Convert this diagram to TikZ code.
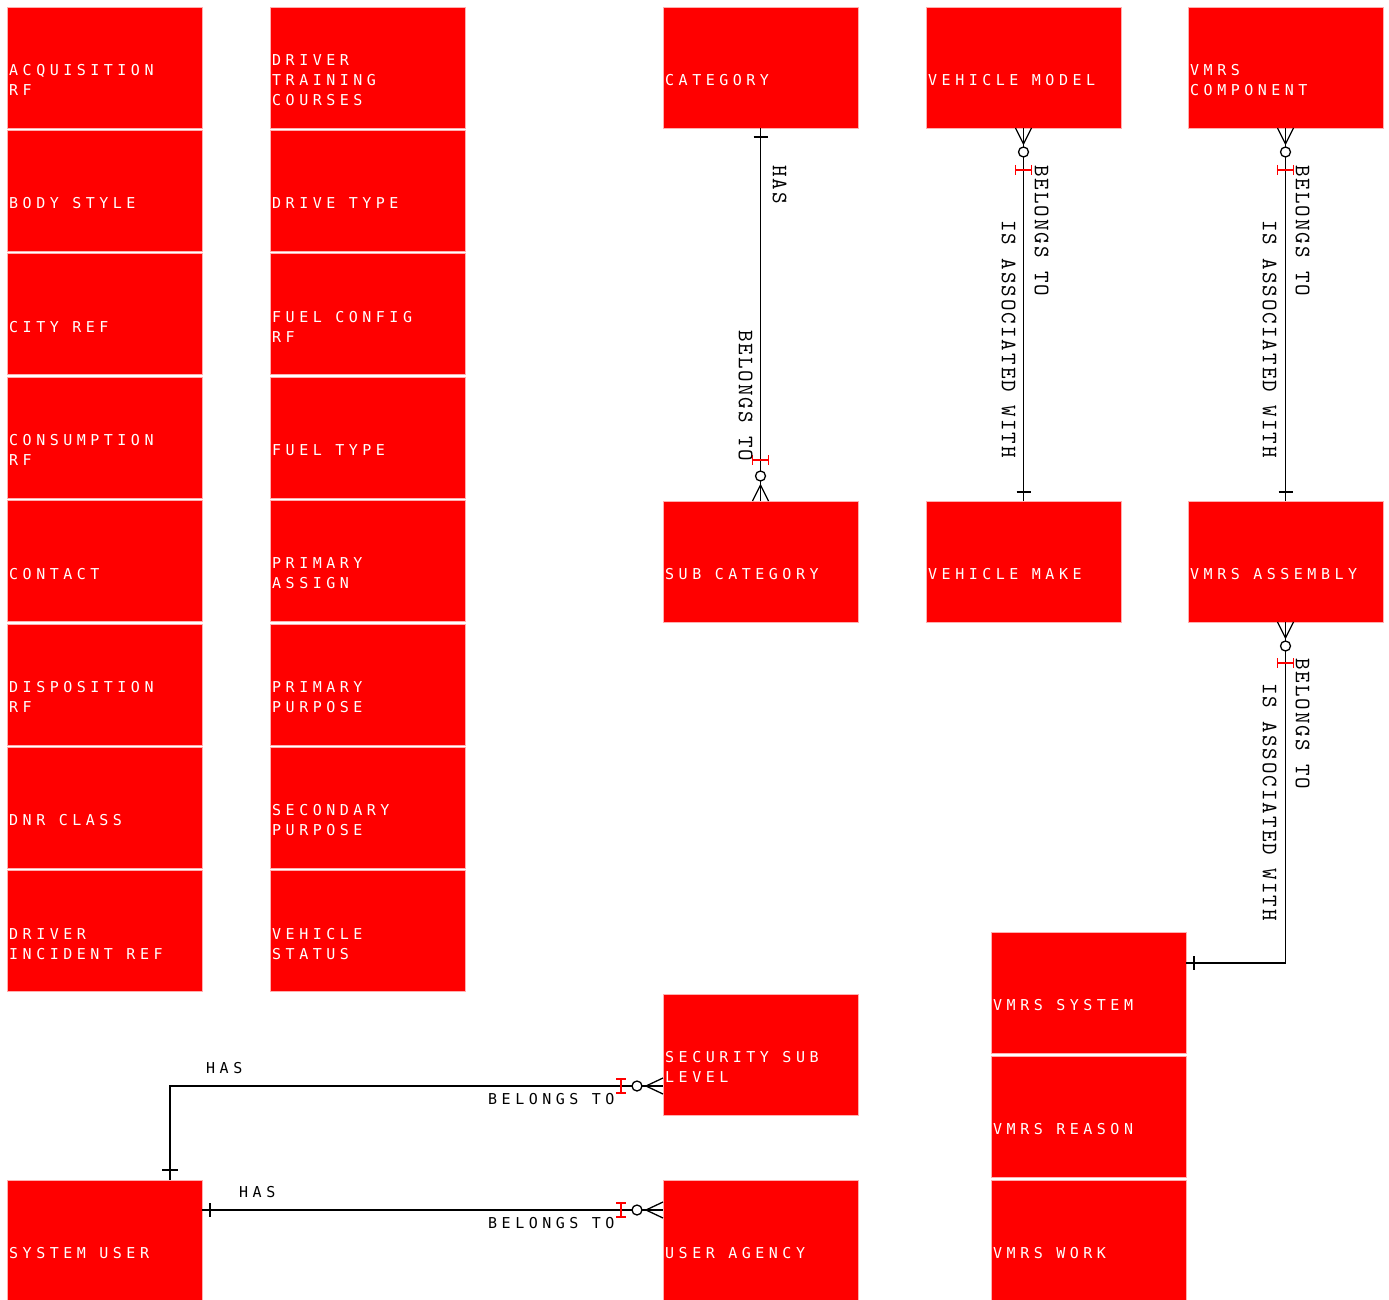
\documentclass[tikz,border=0pt]{standalone}
\usepackage{fontspec}
\newfontfamily\entfontfam{DejaVu Sans Mono}[LetterSpace=30]
\newfontfamily\lblfam{lmmono10-regular.otf}[LetterSpace=9]
\newcommand\entfont{\entfontfam\fontsize{15}{20}\selectfont}
\newcommand\lblfont{\lblfam\fontsize{22}{22}\selectfont}
\usetikzlibrary{calc}
\definecolor{entred}{RGB}{255,0,0}
\definecolor{entedge}{RGB}{255,175,175}
\newcommand\entity[4]{%
  \node[ent] (#1) at (#2,#3) {};
  \node[etext] (#1-t) at ([xshift=2pt,yshift=-12.5pt]#1.west) {#4};}
\begin{document}
\begin{tikzpicture}[x=1pt,y=-1pt,
  ent/.style={draw=entedge, line width=0.8pt, fill=entred, minimum width=195pt, minimum height=121pt, anchor=north west, inner sep=0pt, outer sep=0pt},
  etext/.style={anchor=west, text=white, font=\entfont, align=left, inner sep=0pt},
  rel/.style={draw=black, line width=1.3pt},
  redmark/.style={draw=red, line width=1.3pt},
  circ/.style={draw=black, line width=1.3pt, fill=white},
  vlab/.style={font=\lblfont, rotate=-90, anchor=west, inner sep=0pt},
  hlab/.style={font=\entfont, anchor=west, inner sep=0pt, text=black}]
\useasboundingbox (0,0) rectangle (1389,1300);
% column 1
\entity{acq}{7}{7}{ACQUISITION\\RF}
\entity{body}{7}{130.4}{BODY STYLE}
\entity{city}{7}{253.8}{CITY REF}
\entity{cons}{7}{377.2}{CONSUMPTION\\RF}
\entity{contact}{7}{500.6}{CONTACT}
\entity{disp}{7}{624}{DISPOSITION\\RF}
\entity{dnr}{7}{747.4}{DNR CLASS}
\entity{dinc}{7}{870.8}{DRIVER\\INCIDENT REF}
% column 2
\entity{dtc}{270}{7}{DRIVER\\TRAINING\\COURSES}
\entity{drive}{270}{130.4}{DRIVE TYPE}
\entity{fconf}{270}{253.8}{FUEL CONFIG\\RF}
\entity{ftype}{270}{377.2}{FUEL TYPE}
\entity{pass}{270}{500.6}{PRIMARY\\ASSIGN}
\entity{ppur}{270}{624}{PRIMARY\\PURPOSE}
\entity{spur}{270}{747.4}{SECONDARY\\PURPOSE}
\entity{vstat}{270}{870.8}{VEHICLE\\STATUS}
% others
\entity{cat}{663}{7}{CATEGORY}
\entity{subcat}{663}{501}{SUB CATEGORY}
\entity{vmodel}{926}{7}{VEHICLE MODEL}
\entity{vmake}{926}{501}{VEHICLE MAKE}
\entity{vcomp}{1188}{7}{VMRS\\COMPONENT}
\entity{vasm}{1188}{501}{VMRS ASSEMBLY}
\entity{vsys}{991}{932}{VMRS SYSTEM}
\entity{vreason}{991}{1056}{VMRS REASON}
\entity{vwork}{991}{1180}{VMRS WORK}
\entity{secsub}{663}{994}{SECURITY SUB\\LEVEL}
\entity{uagency}{663}{1180}{USER AGENCY}
\entity{sysuser}{7}{1180}{SYSTEM USER}

% CATEGORY -> SUB CATEGORY
\draw[rel] (cat.south) -- (subcat.north);
\draw[rel] ($(cat.south)+(-7,9)$) -- ($(cat.south)+(7,9)$);
\draw[redmark] ($(subcat.north)+(-8,-41)$) -- ($(subcat.north)+(8,-41)$);
\draw[redmark] ($(subcat.north)+(-8,-46)$) -- ($(subcat.north)+(-8,-36)$);
\draw[redmark] ($(subcat.north)+(8,-46)$) -- ($(subcat.north)+(8,-36)$);
\draw[rel] ($(subcat.north)+(0,-16)$) -- ($(subcat.north)+(-8,0)$);
\draw[rel] ($(subcat.north)+(0,-16)$) -- ($(subcat.north)+(8,0)$);
\draw[circ] ($(subcat.north)+(0,-25)$) circle[radius=5];
\node[vlab] (l1) at ($(cat.south)+(19,37)$) {HAS};
\node[vlab] (l2) at ($(subcat.north)+(-15,-171)$) {BELONGS TO};

% VEHICLE MODEL -> VEHICLE MAKE
\draw[rel] (vmodel.south) -- (vmake.north);
\draw[rel] ($(vmake.north)+(-7,-9)$) -- ($(vmake.north)+(7,-9)$);
\draw[rel] ($(vmodel.south)+(0,16)$) -- ($(vmodel.south)+(-8,0)$);
\draw[rel] ($(vmodel.south)+(0,16)$) -- ($(vmodel.south)+(8,0)$);
\draw[circ] ($(vmodel.south)+(0,24)$) circle[radius=5];
\draw[redmark] ($(vmodel.south)+(-8,42)$) -- ($(vmodel.south)+(8,42)$);
\draw[redmark] ($(vmodel.south)+(-8,37)$) -- ($(vmodel.south)+(-8,47)$);
\draw[redmark] ($(vmodel.south)+(8,37)$) -- ($(vmodel.south)+(8,47)$);
\node[vlab] (l3) at ($(vmodel.south)+(18,37)$) {BELONGS TO};
\node[vlab] (l4) at ($(vmodel.south)+(-15,92)$) {IS ASSOCIATED WITH};

% VMRS COMPONENT -> VMRS ASSEMBLY
\draw[rel] (vcomp.south) -- (vasm.north);
\draw[rel] ($(vasm.north)+(-7,-9)$) -- ($(vasm.north)+(7,-9)$);
\draw[rel] ($(vcomp.south)+(0,16)$) -- ($(vcomp.south)+(-8,0)$);
\draw[rel] ($(vcomp.south)+(0,16)$) -- ($(vcomp.south)+(8,0)$);
\draw[circ] ($(vcomp.south)+(0,24)$) circle[radius=5];
\draw[redmark] ($(vcomp.south)+(-8,42)$) -- ($(vcomp.south)+(8,42)$);
\draw[redmark] ($(vcomp.south)+(-8,37)$) -- ($(vcomp.south)+(-8,47)$);
\draw[redmark] ($(vcomp.south)+(8,37)$) -- ($(vcomp.south)+(8,47)$);
\node[vlab] (l5) at ($(vcomp.south)+(17,37)$) {BELONGS TO};
\node[vlab] (l6) at ($(vcomp.south)+(-16,92)$) {IS ASSOCIATED WITH};

% VMRS ASSEMBLY -> VMRS SYSTEM
\coordinate (sysin) at ($(vsys.north east)+(0,31)$);
\draw[rel] (vasm.south) |- (sysin);
\draw[rel] ($(sysin)+(8,-7)$) -- ($(sysin)+(8,7)$);
\draw[rel] ($(vasm.south)+(0,16)$) -- ($(vasm.south)+(-8,0)$);
\draw[rel] ($(vasm.south)+(0,16)$) -- ($(vasm.south)+(8,0)$);
\draw[circ] ($(vasm.south)+(0,24)$) circle[radius=5];
\draw[redmark] ($(vasm.south)+(-8,41)$) -- ($(vasm.south)+(8,41)$);
\draw[redmark] ($(vasm.south)+(-8,36)$) -- ($(vasm.south)+(-8,46)$);
\draw[redmark] ($(vasm.south)+(8,36)$) -- ($(vasm.south)+(8,46)$);
\node[vlab] (l7) at ($(vasm.south)+(17,36)$) {BELONGS TO};
\node[vlab] (l8) at ($(vasm.south)+(-16,61)$) {IS ASSOCIATED WITH};

% SYSTEM USER -> SECURITY SUB LEVEL
\coordinate (suout) at ($(sysuser.north west)+(163,0)$);
\coordinate (secin) at ($(secsub.south west)+(0,-29)$);
\draw[rel] (suout) |- (secin);
\draw[rel] ($(suout)+(-8,-10)$) -- ($(suout)+(8,-10)$);
\draw[rel] ($(secin)+(-17,0)$) -- ($(secin)+(0,-8)$);
\draw[rel] ($(secin)+(-17,0)$) -- ($(secin)+(0,8)$);
\draw[circ] ($(secin)+(-26,0)$) circle[radius=5];
\draw[redmark] ($(secin)+(-42,-7)$) -- ($(secin)+(-42,7)$);
\draw[redmark] ($(secin)+(-47,-7)$) -- ($(secin)+(-37,-7)$);
\draw[redmark] ($(secin)+(-47,7)$) -- ($(secin)+(-37,7)$);
\node[hlab] (l9) at ($(suout)+(36,-112)$) {HAS};
\node[hlab] (l10) at ($(secin)+(-175,13)$) {BELONGS TO};

% SYSTEM USER -> USER AGENCY
\coordinate (suout2) at ($(sysuser.north east)+(0,30)$);
\coordinate (uain) at ($(uagency.north west)+(0,30)$);
\draw[rel] (suout2) -- (uain);
\draw[rel] ($(suout2)+(8,-7)$) -- ($(suout2)+(8,7)$);
\draw[rel] ($(uain)+(-17,0)$) -- ($(uain)+(0,-8)$);
\draw[rel] ($(uain)+(-17,0)$) -- ($(uain)+(0,8)$);
\draw[circ] ($(uain)+(-26,0)$) circle[radius=5];
\draw[redmark] ($(uain)+(-42,-7)$) -- ($(uain)+(-42,7)$);
\draw[redmark] ($(uain)+(-47,-7)$) -- ($(uain)+(-37,-7)$);
\draw[redmark] ($(uain)+(-47,7)$) -- ($(uain)+(-37,7)$);
\node[hlab] (l11) at ($(suout2)+(37,-18)$) {HAS};
\node[hlab] (l12) at ($(uain)+(-175,13)$) {BELONGS TO};
\end{tikzpicture}
\end{document}
